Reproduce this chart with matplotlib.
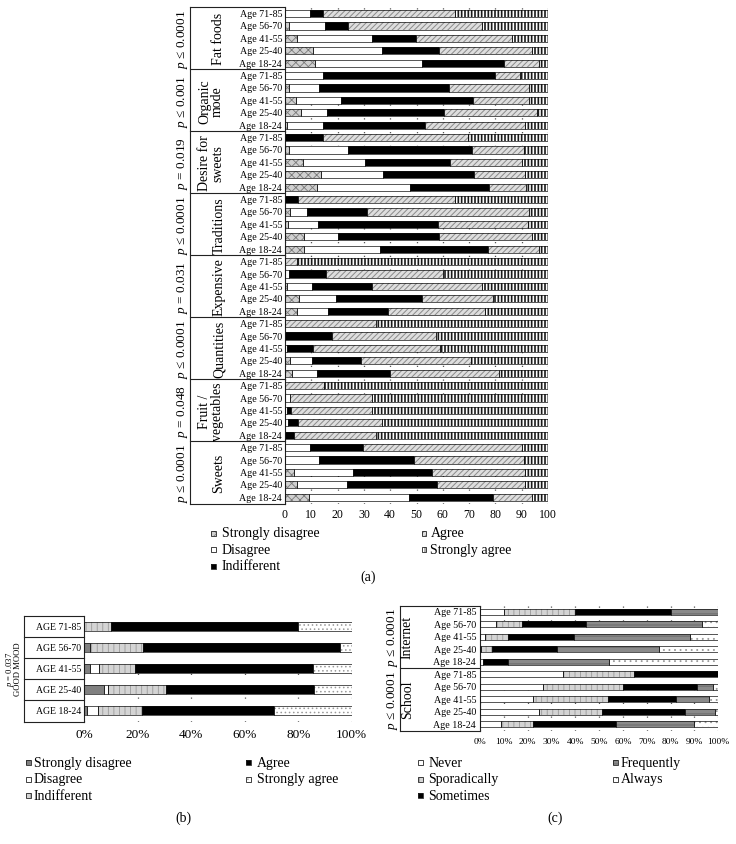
import matplotlib
matplotlib.use("Agg")
import matplotlib.pyplot as plt
from matplotlib.lines import Line2D
from matplotlib.patches import Rectangle

plt.rcParams['font.family'] = ['Liberation Serif', 'DejaVu Serif']
plt.rcParams['mathtext.fontset'] = 'custom'
plt.rcParams['mathtext.it'] = 'Liberation Serif:italic'
plt.rcParams['mathtext.rm'] = 'Liberation Serif'
plt.rcParams['hatch.linewidth'] = 0.6

# ---------------- DATA ----------------
age_labels = ["Age 71-85", "Age 56-70", "Age 41-55", "Age 25-40", "Age 18-24"]
age_labels_upper = ["AGE 71-85", "AGE 56-70", "AGE 41-55", "AGE 25-40", "AGE 18-24"]

# Panel (a): levels Strongly disagree, Disagree, Indifferent, Agree, Strongly agree
levels_a = ["Strongly disagree", "Disagree", "Indifferent", "Agree", "Strongly agree"]
groups_a = ["Fat foods", "Organic\nmode", "Desire for\nsweets", "Traditions",
            "Expensive", "Quantities", "Fruit /\nvegetables", "Sweets"]
pvals_a = ["$p$ ≤ 0.0001", "$p$ ≤ 0.001", "$p$ = 0.019", "$p$ ≤ 0.0001",
           "$p$ = 0.031", "$p$ ≤ 0.0001", "$p$ = 0.048", "$p$ ≤ 0.0001"]

fat_foods = [[0, 9.5, 5.1, 50.1, 35.3],
             [1.6, 13.6, 8.9, 50.8, 25.1],
             [4.4, 28.6, 16.9, 36.4, 13.7],
             [10.5, 26.3, 21.6, 35.5, 6.1],
             [11.4, 40.6, 31.1, 13.3, 3.6]]
organic_mode = [[0, 14.6, 65.4, 9.5, 10.5],
                [1.6, 11.4, 49.2, 30.4, 7.4],
                [4.2, 17.0, 50.2, 21.2, 7.4],
                [6.0, 9.9, 44.4, 35.5, 4.2],
                [0.9, 13.7, 38.7, 38.1, 8.6]]
desire_sweets = [[0, 0, 14.6, 54.8, 30.6],
                 [1.6, 22.5, 47.0, 19.6, 9.3],
                 [7.0, 23.5, 32.3, 27.3, 9.9],
                 [13.7, 23.7, 34.3, 19.7, 8.6],
                 [12.3, 35.3, 29.8, 14.4, 8.2]]
traditions = [[0, 0, 4.8, 59.9, 35.3],
              [1.9, 6.3, 22.9, 61.5, 7.4],
              [1.0, 11.7, 45.3, 34.4, 7.6],
              [7.2, 13.1, 38.1, 35.5, 6.1],
              [7.4, 28.8, 40.8, 19.4, 3.6]]
expensive = [[0, 0, 0, 4.4, 95.6],
             [0, 1.6, 13.9, 44.4, 40.1],
             [0.9, 9.5, 22.8, 41.7, 25.1],
             [5.5, 13.9, 32.6, 26.9, 21.1],
             [4.4, 12.1, 22.5, 37.1, 23.9]]
quantities = [[0, 0, 0, 34.6, 65.4],
              [0, 0, 17.8, 39.7, 42.5],
              [0, 0.9, 9.6, 48.5, 41.0],
              [1.9, 8.5, 18.4, 42.0, 29.2],
              [2.5, 9.7, 27.7, 41.5, 18.6]]
fruit_veg = [[0, 0, 0, 15.0, 85.0],
             [0, 1.9, 0, 31.3, 66.8],
             [0, 0.8, 1.5, 30.9, 66.8],
             [0, 1.3, 3.5, 32.0, 63.2],
             [0, 0, 3.4, 31.2, 65.4]]
sweets = [[0, 9.5, 20.3, 60.3, 9.9],
          [0, 13.1, 35.8, 41.8, 9.3],
          [3.4, 22.6, 29.8, 35.3, 8.9],
          [4.7, 19.0, 34.0, 33.7, 8.6],
          [9.1, 37.9, 32.1, 14.8, 6.1]]
data_a = [fat_foods, organic_mode, desire_sweets, traditions,
          expensive, quantities, fruit_veg, sweets]
ticks_a = [0, 10, 20, 30, 40, 50, 60, 70, 80, 90, 100]

# Panel (b)
levels_b = ["Strongly disagree", "Disagree", "Indifferent", "Agree", "Strongly agree"]
pval_b = "$p$ = 0.037"
group_b = "GOOD MOOD"
good_mood = [[0, 0, 10.0, 69.8, 20.2],
             [2.1, 0, 20.0, 73.5, 4.4],
             [2.1, 3.5, 13.4, 66.7, 14.3],
             [7.4, 1.6, 21.5, 55.4, 14.1],
             [1.0, 4.0, 16.4, 49.5, 29.1]]
ticks_b = [0, 20, 40, 60, 80, 100]

# Panel (c)
levels_c = ["Never", "Sporadically", "Sometimes", "Frequently", "Always"]
groups_c = ["Internet", "School"]
pvals_c = ["$p$ ≤ 0.0001", "$p$ ≤ 0.0001"]
internet = [[10.1, 29.8, 40.2, 19.9, 0],
            [6.6, 11.2, 26.7, 48.8, 6.7],
            [2.1, 9.8, 27.5, 48.7, 11.9],
            [0.3, 4.6, 27.5, 42.8, 24.8],
            [1.4, 0, 10.5, 42.2, 45.9]]
school = [[35.0, 29.8, 35.2, 0, 0],
          [26.6, 33.3, 31.3, 6.7, 2.1],
          [22.4, 31.2, 28.6, 14.0, 3.8],
          [24.9, 26.1, 35.0, 12.6, 1.4],
          [8.8, 13.6, 34.7, 32.7, 10.2]]
data_c = [internet, school]
ticks_c = [0, 10, 20, 30, 40, 50, 60, 70, 80, 90, 100]

# ---------------- STYLES ----------------
styles_a = [dict(fc='#d0d0d0', hatch='xxxx', hc='#7a7a7a', hlw=0.6),
            dict(fc='white', hatch=None, hc='white', hlw=0.6),
            dict(fc='black', hatch=None, hc='black', hlw=0.6),
            dict(fc='#dedede', hatch='/' * 6, hc='#8a8a8a', hlw=0.7),
            dict(fc='white', hatch='|' * 5, hc='#1a1a1a', hlw=1.2)]
styles_b = [dict(fc='#808080', hatch=None, hc='#808080', hlw=0.6),
            dict(fc='white', hatch=None, hc='white', hlw=0.6),
            dict(fc='#d4d4d4', hatch='|||', hc='#9a9a9a', hlw=0.6),
            dict(fc='black', hatch=None, hc='black', hlw=0.6),
            dict(fc='white', hatch='....', hc='#9a9a9a', hlw=0.6)]
styles_c = [dict(fc='white', hatch=None, hc='white', hlw=0.6),
            dict(fc='#d4d4d4', hatch='|||', hc='#999999', hlw=0.6),
            dict(fc='black', hatch=None, hc='black', hlw=0.6),
            dict(fc='#8a8a8a', hatch='---', hc='#666666', hlw=0.6),
            dict(fc='white', hatch='...', hc='#9a9a9a', hlw=0.6)]

W, H = 736, 845
fig = plt.figure(figsize=(W / 100, H / 100), dpi=100)


def fx(x):
    return x / W


def fy(y):
    return 1 - y / H


def add_ax(x0, x1, y0, y1):
    return fig.add_axes([fx(x0), fy(y1), (x1 - x0) / W, (y1 - y0) / H])


def fline(x0, x1, y0, y1, lw=0.8, color='#222222'):
    fig.add_artist(Line2D([fx(x0), fx(x1)], [fy(y0), fy(y1)], color=color, lw=lw))


def draw_rows(ax, rows, styles, height):
    for i, row in enumerate(rows):
        left = 0
        for v, st in zip(row, styles):
            if v > 0:
                with plt.rc_context({'hatch.linewidth': st['hlw']}):
                    ax.barh(i, v, left=left, height=height, color=st['fc'], hatch=st['hatch'],
                            edgecolor=st['hc'], linewidth=0, zorder=2)
                ax.barh(i, v, left=left, height=height, fill=False, edgecolor='#111111',
                        linewidth=0.5, zorder=3)
            left += v


def style_ax(ax, nrows, ticks, fmt, fsize, pad, grid_ls):
    ax.set_xlim(0, 100)
    ax.set_ylim(nrows - 0.5, -0.5)
    ax.set_xticks(ticks)
    ax.set_xticklabels([fmt.format(t) for t in ticks], fontsize=fsize)
    ax.set_yticks([])
    ax.tick_params(axis='x', length=0, pad=pad)
    for s in ['top', 'right', 'bottom']:
        ax.spines[s].set_visible(False)
    ax.spines['left'].set_color('#222222')
    ax.spines['left'].set_linewidth(0.8)
    ax.set_axisbelow(True)
    ax.xaxis.grid(True, color='#555555', linewidth=0.9, linestyle=grid_ls)
    ax.patch.set_alpha(0)


def legend_entry(x_marker, y, label, st, x_text, size=5, fsize=10):
    with plt.rc_context({'hatch.linewidth': 0.5}):
        r = Rectangle((fx(x_marker - size / 2), fy(y + size / 2)), size / W, size / H,
                      transform=fig.transFigure, facecolor=st['fc'], hatch=st['hatch'],
                      edgecolor=st['hc'], linewidth=0)
    fig.add_artist(r)
    fig.add_artist(Rectangle((fx(x_marker - size / 2), fy(y + size / 2)), size / W, size / H,
                             transform=fig.transFigure, fill=False, edgecolor='#222222',
                             linewidth=0.6))
    fig.text(fx(x_text), fy(y), label, fontsize=fsize, va='center', ha='left')


# ---------------- PANEL (a) ----------------
ax_l, ax_r, ax_t, ax_b = 285, 548, 8.3, 504.5
ax_a = add_ax(ax_l, ax_r, ax_t, ax_b)
rows_a = [r for g in data_a for r in g]
draw_rows(ax_a, rows_a, styles_a, 0.58)
style_ax(ax_a, len(rows_a), ticks_a, "{}", 8.5, 3, (0, (1, 10)))

row_h = (ax_b - ax_t) / len(rows_a)
grp_h = row_h * 5
tab_x0 = 190
fline(tab_x0, tab_x0, ax_t, ax_b)
for k in range(len(groups_a) + 1):
    yy = ax_t + k * grp_h
    fline(tab_x0, ax_l, yy, yy)
for k, (g, p) in enumerate(zip(groups_a, pvals_a)):
    yc = ax_t + (k + 0.5) * grp_h
    fig.text(fx(182), fy(yc), p, rotation=90, fontsize=9.5, ha='center', va='center')
    gx = 211 if '\n' in g else 219
    fig.text(fx(gx), fy(yc), g, rotation=90, fontsize=10, ha='center', va='center',
             multialignment='center', linespacing=1.0)
for i in range(len(rows_a)):
    yc = ax_t + (i + 0.5) * row_h
    fig.text(fx(282), fy(yc), age_labels[i % 5], fontsize=7.2, ha='right', va='center')

leg_a_rows = [534, 550.5, 567]
for j in range(3):
    legend_entry(213, leg_a_rows[j], levels_a[j], styles_a[j], 221.5)
for j in range(2):
    legend_entry(424, leg_a_rows[j], levels_a[3 + j], styles_a[3 + j], 430.5)
fig.text(fx(368), fy(577), "(a)", fontsize=10, ha='center', va='center')

# ---------------- PANEL (b) ----------------
b_l, b_r, b_t, b_b = 84.3, 351.7, 616.7, 722.5
ax_bp = add_ax(b_l, b_r, b_t, b_b)
draw_rows(ax_bp, good_mood, styles_b, 0.42)
style_ax(ax_bp, 5, ticks_b, "{}%", 9.5, 5, (0, (1, 18)))
rh_b = (b_b - b_t) / 5
fline(23.5, 23.5, b_t, b_b)
for k in range(6):
    yy = b_t + k * rh_b
    fline(23.5, b_l, yy, yy)
for i in range(5):
    yc = b_t + (i + 0.5) * rh_b
    fig.text(fx(81), fy(yc), age_labels_upper[i], fontsize=7, ha='right', va='center')
yc_b = (b_t + b_b) / 2
fig.text(fx(9.5), fy(yc_b), pval_b, rotation=90, fontsize=6.2, ha='center', va='center')
fig.text(fx(18.5), fy(yc_b), group_b, rotation=90, fontsize=6.2, ha='center', va='center')

leg_bc_rows = [763.3, 780, 796.5]
for j in range(3):
    legend_entry(28.2, leg_bc_rows[j], levels_b[j], styles_b[j], 33.5)
for j in range(2):
    legend_entry(248.5, leg_bc_rows[j], levels_b[3 + j], styles_b[3 + j], 256.7)
fig.text(fx(183), fy(818), "(b)", fontsize=10, ha='center', va='center')

# ---------------- PANEL (c) ----------------
c_l, c_r, c_t, c_b = 480, 718.3, 606.5, 731.5
ax_c = add_ax(c_l, c_r, c_t, c_b)
rows_c = [r for g in data_c for r in g]
draw_rows(ax_c, rows_c, styles_c, 0.5)
style_ax(ax_c, len(rows_c), ticks_c, "{}%", 6.8, 5, (0, (1, 10)))
rh_c = (c_b - c_t) / len(rows_c)
fline(400, 400, c_t, c_b)
for k in range(3):
    yy = c_t + k * rh_c * 5
    fline(400, c_l, yy, yy)
for k, (g, p) in enumerate(zip(groups_c, pvals_c)):
    yc = c_t + (k + 0.5) * rh_c * 5
    fig.text(fx(392.5), fy(yc), p, rotation=90, fontsize=9.5, ha='center', va='center')
    fig.text(fx(407.5), fy(yc), g, rotation=90, fontsize=10, ha='center', va='center')
for i in range(len(rows_c)):
    yc = c_t + (i + 0.5) * rh_c
    fig.text(fx(476), fy(yc), age_labels[i % 5], fontsize=7.2, ha='right', va='center')

for j in range(3):
    legend_entry(420.5, leg_bc_rows[j], levels_c[j], styles_c[j], 428.3)
for j in range(2):
    legend_entry(615.5, leg_bc_rows[j], levels_c[3 + j], styles_c[3 + j], 621)
fig.text(fx(555), fy(818), "(c)", fontsize=10, ha='center', va='center')

fig.savefig("out.png", dpi=100)
